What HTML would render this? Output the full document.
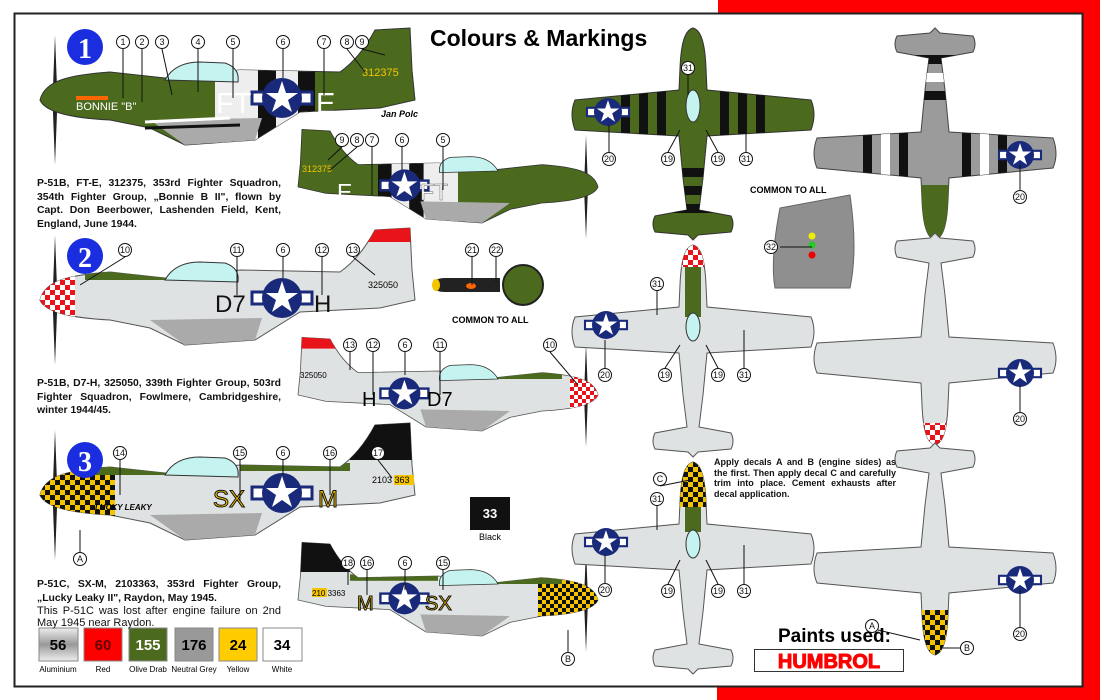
<!DOCTYPE html>
<html><head><meta charset="utf-8"><style>
html,body{margin:0;padding:0;background:#fff}
body{width:1100px;height:700px;overflow:hidden;position:relative;font-family:"Liberation Sans",sans-serif}
.t{position:absolute;font-weight:bold;font-size:10.4px;line-height:13.5px;text-align:justify;color:#111}
</style></head><body>
<svg width="1100" height="700" viewBox="0 0 1100 700" style="position:absolute;left:0;top:0" font-family="Liberation Sans, sans-serif">
<defs>
<path id="fus" d="M40,100 C45,80 70,75 110,72 L165,78 L240,70 L340,72 Q360,58 375,30 L410,28 L412,70 L415,100 L380,108 L300,112 L255,140 L185,145 L150,128 L110,120 C70,118 45,112 40,100 Z"/>
<clipPath id="cf"><use href="#fus"/></clipPath>
<path id="top" d="M0,0 C8,2 12,15 13,40 L14,62 L118,72 Q124,86 118,102 L14,108 L10,150 L6,182 L38,188 Q42,196 38,204 L5,207 L0,212 L-5,207 L-38,204 Q-42,196 -38,188 L-6,182 L-10,150 L-14,108 L-118,102 Q-124,86 -118,72 L-14,62 L-13,40 C-12,15 -8,2 0,0Z"/>
<clipPath id="ct"><use href="#top"/></clipPath>
<pattern id="chk" width="10" height="10" patternUnits="userSpaceOnUse"><rect width="10" height="10" fill="#f5c400"/><rect width="5" height="5" fill="#111"/><rect x="5" y="5" width="5" height="5" fill="#111"/></pattern>
<pattern id="rchk" width="10" height="10" patternUnits="userSpaceOnUse"><rect width="10" height="10" fill="#fff"/><rect width="5" height="5" fill="#e8141a"/><rect x="5" y="5" width="5" height="5" fill="#e8141a"/></pattern>
<g id="star"><rect x="-30" y="-6" width="60" height="12" fill="#fff" stroke="#1a2a7a" stroke-width="3"/><circle r="20" fill="#1a2a7a"/><polygon points="0,-17 4,-5 16,-5 6,2 10,14 0,7 -10,14 -6,2 -16,-5 -4,-5" fill="#fff"/></g>
<g id="prop"><path d="M55,35 L57.5,100 L55,165 L52.5,100 Z" fill="#222"/></g>
<g id="canopy"><path d="M165,80 Q175,62 200,62 L225,63 Q240,68 238,82 Z" fill="#c5f3f0" stroke="#333"/></g>
<g id="scoop"><path d="M150,120 L262,118 L255,140 L185,145 Z" fill="#aaa" clip-path="url(#cf)"/></g>
</defs>

<rect x="718" y="0" width="382" height="13" fill="#f00"/>
<rect x="1083" y="0" width="17" height="700" fill="#f00"/>
<rect x="717" y="687" width="383" height="13" fill="#f00"/>
<rect x="14.5" y="13.5" width="1068" height="673" fill="none" stroke="#222" stroke-width="2"/>

<text x="430" y="46" font-size="23" font-weight="bold">Colours &amp; Markings</text>

<g>
<use href="#prop"/>
<use href="#fus" fill="#4b6a1e" stroke="#333"/>
<g clip-path="url(#cf)"><rect x="215" y="60" width="100" height="90" fill="#eee"/><rect x="258" y="40" width="18" height="110" fill="#111"/><rect x="298" y="40" width="17" height="110" fill="#111"/></g>
<use href="#scoop"/>
<path d="M145,122 L230,118" stroke="#fff" stroke-width="3"/><path d="M145,128 L240,125" stroke="#111" stroke-width="3"/>
<use href="#canopy"/>
<rect x="76" y="96" width="32" height="4" fill="#f60"/>
<text x="76" y="110" font-size="11" fill="#fff">BONNIE "B"</text>
<use href="#star" x="282" y="98"/>
<text x="216" y="113" font-size="29" fill="#fff">FT</text><text x="316" y="113" font-size="29" fill="#fff">E</text>
<text x="362" y="76" font-size="11" fill="#f5c400">312375</text>
<text x="381" y="117" font-size="9" font-style="italic" font-weight="bold">Jan Polc</text>
</g>
<circle cx="85" cy="47" r="18" fill="#1a2ee0"/><text x="85" y="58" font-size="28" font-family="Liberation Serif,serif" font-weight="bold" fill="#fff" text-anchor="middle">1</text>

<g transform="translate(630,107) scale(-0.8,0.8)">
<use href="#prop"/>
<use href="#fus" fill="#4b6a1e" stroke="#333"/>
<g clip-path="url(#cf)"><rect x="215" y="60" width="100" height="90" fill="#eee"/><rect x="258" y="40" width="18" height="110" fill="#111"/><rect x="298" y="40" width="17" height="110" fill="#111"/></g>
<use href="#scoop"/>
<use href="#canopy"/>
<use href="#star" x="282" y="98"/>
</g>
<text x="420" y="200" font-size="23" fill="#fff" stroke="#666" stroke-width="0.5">FT</text><text x="337" y="200" font-size="23" fill="#fff">E</text>
<text x="302" y="172" font-size="9" fill="#f5c400">312375</text>

<g transform="translate(0,200)">
<use href="#prop"/>
<use href="#fus" fill="#dfe2e2" stroke="#555"/>
<g clip-path="url(#cf)"><rect x="40" y="70" width="35" height="60" fill="url(#rchk)"/><rect x="350" y="20" width="70" height="22" fill="#e8141a"/><rect x="85" y="72" width="90" height="8" fill="#4b6a1e"/></g>
<use href="#scoop"/>
<use href="#canopy"/>
<use href="#star" x="282" y="98"/>
<text x="215" y="112" font-size="24" fill="#111">D7</text><text x="314" y="112" font-size="24" fill="#111">H</text>
<text x="368" y="88" font-size="9">325050</text>
</g>
<circle cx="85" cy="256" r="18" fill="#1a2ee0"/><text x="85" y="267" font-size="28" font-family="Liberation Serif,serif" font-weight="bold" fill="#fff" text-anchor="middle">2</text>

<g transform="translate(630,315) scale(-0.8,0.8)">
<use href="#prop"/>
<use href="#fus" fill="#dfe2e2" stroke="#555"/>
<g clip-path="url(#cf)"><rect x="40" y="70" width="35" height="60" fill="url(#rchk)"/><rect x="350" y="20" width="70" height="22" fill="#e8141a"/><rect x="85" y="72" width="90" height="8" fill="#4b6a1e"/></g>
<use href="#scoop"/>
<use href="#canopy"/>
<use href="#star" x="282" y="98"/>
</g>
<text x="427" y="406" font-size="20">D7</text><text x="362" y="406" font-size="20">H</text>
<text x="300" y="378" font-size="8">325050</text>

<g transform="translate(0,395)">
<use href="#prop"/>
<use href="#fus" fill="#dfe2e2" stroke="#555"/>
<g clip-path="url(#cf)"><rect x="40" y="70" width="75" height="60" fill="url(#chk)"/><rect x="350" y="20" width="70" height="45" fill="#111"/><rect x="85" y="72" width="90" height="8" fill="#4b6a1e"/><rect x="240" y="68" width="110" height="8" fill="#4b6a1e"/></g>
<use href="#scoop"/>
<use href="#canopy"/>
<use href="#star" x="282" y="98"/>
<text x="213" y="112" font-size="24" fill="#f5c400" stroke="#111" stroke-width="1">SX</text><text x="318" y="112" font-size="24" fill="#f5c400" stroke="#111" stroke-width="1">M</text>
<rect x="394" y="80" width="20" height="10" fill="#f5c400"/><text x="372" y="88" font-size="9">2103 363</text>
<text x="95" y="115" font-size="8" font-style="italic" font-weight="bold">LUCKY LEAKY</text>
</g>
<circle cx="85" cy="460" r="18" fill="#1a2ee0"/><text x="85" y="471" font-size="28" font-family="Liberation Serif,serif" font-weight="bold" fill="#fff" text-anchor="middle">3</text>

<g transform="translate(630,520) scale(-0.8,0.8)">
<use href="#prop"/>
<use href="#fus" fill="#dfe2e2" stroke="#555"/>
<g clip-path="url(#cf)"><rect x="40" y="70" width="75" height="60" fill="url(#chk)"/><rect x="350" y="20" width="70" height="45" fill="#111"/><rect x="85" y="72" width="90" height="8" fill="#4b6a1e"/><rect x="240" y="68" width="110" height="8" fill="#4b6a1e"/></g>
<use href="#scoop"/>
<use href="#canopy"/>
<use href="#star" x="282" y="98"/>
</g>
<text x="425" y="610" font-size="20" fill="#f5c400" stroke="#111" stroke-width="1">SX</text><text x="357" y="610" font-size="20" fill="#f5c400" stroke="#111" stroke-width="1">M</text>
<rect x="312" y="588" width="15" height="9" fill="#f5c400"/><text x="312" y="596" font-size="8">210 3363</text>

<path d="M432,285 Q434,278 445,278 L500,278 L500,292 L445,292 Q434,292 432,285Z" fill="#222"/>
<ellipse cx="436" cy="285" rx="4" ry="6" fill="#f5c400"/>
<ellipse cx="471" cy="286" rx="5" ry="3" fill="#f60"/>
<circle cx="523" cy="285" r="20" fill="#4b6a1e" stroke="#222" stroke-width="2"/>
<text x="452" y="323" font-size="9" font-weight="bold">COMMON TO ALL</text>
<text x="750" y="193" font-size="9" font-weight="bold">COMMON TO ALL</text>
<path d="M780,208 L850,195 Q858,250 850,288 L775,288 Q770,260 780,208Z" fill="#8f8f8f" stroke="#666"/>
<circle cx="812" cy="236" r="3.5" fill="#ee0"/><circle cx="812" cy="245" r="3.5" fill="#2c2"/><circle cx="812" cy="255" r="3.5" fill="#e00"/>

<rect x="470" y="497" width="40" height="33" fill="#111"/>
<text x="490" y="518" font-size="13" font-weight="bold" fill="#fff" text-anchor="middle">33</text>
<text x="490" y="540" font-size="9" text-anchor="middle">Black</text>

<g transform="translate(693,28)">
<use href="#top" fill="#4b6a1e" stroke="#333"/>
<g clip-path="url(#ct)"><rect x="-72" y="60" width="9" height="50" fill="#111"/><rect x="-54" y="60" width="9" height="50" fill="#111"/><rect x="-36" y="60" width="9" height="50" fill="#111"/><rect x="27" y="60" width="9" height="50" fill="#111"/><rect x="45" y="60" width="9" height="50" fill="#111"/><rect x="63" y="60" width="9" height="50" fill="#111"/>
<rect x="-20" y="140" width="40" height="9" fill="#111"/><rect x="-20" y="158" width="40" height="9" fill="#111"/><rect x="-20" y="176" width="40" height="9" fill="#111"/></g>
<ellipse cx="0" cy="78" rx="7" ry="16" fill="#c5f3f0" stroke="#333"/>
</g>
<g transform="translate(693,245)">
<use href="#top" fill="#dfe2e2" stroke="#555"/>
<g clip-path="url(#ct)"><rect x="-15" y="0" width="30" height="22" fill="url(#rchk)"/><rect x="-8" y="22" width="16" height="50" fill="#4b6a1e"/></g>
<ellipse cx="0" cy="82" rx="7" ry="14" fill="#c5f3f0" stroke="#333"/>
</g>
<g transform="translate(693,462)">
<use href="#top" fill="#dfe2e2" stroke="#555"/>
<g clip-path="url(#ct)"><rect x="-15" y="0" width="30" height="45" fill="url(#chk)"/><rect x="-8" y="45" width="16" height="25" fill="#4b6a1e"/></g>
<ellipse cx="0" cy="82" rx="7" ry="14" fill="#c5f3f0" stroke="#333"/>
</g>
<g transform="translate(608,112) scale(0.7)"><use href="#star"/></g>
<g transform="translate(606,325) scale(0.7)"><use href="#star"/></g>
<g transform="translate(606,542) scale(0.7)"><use href="#star"/></g>

<g transform="translate(935,240) scale(1,-1)">
<use href="#top" fill="#9b9b9b" stroke="#444"/>
<g clip-path="url(#ct)"><rect x="-72" y="60" width="9" height="50" fill="#111"/><rect x="-54" y="60" width="9" height="50" fill="#fff"/><rect x="-36" y="60" width="9" height="50" fill="#111"/><rect x="27" y="60" width="9" height="50" fill="#111"/><rect x="45" y="60" width="9" height="50" fill="#fff"/><rect x="63" y="60" width="9" height="50" fill="#111"/>
<rect x="-20" y="140" width="40" height="9" fill="#111"/><rect x="-20" y="158" width="40" height="9" fill="#fff"/><rect x="-20" y="176" width="40" height="9" fill="#111"/><rect x="-20" y="0" width="40" height="55" fill="#4b6a1e"/></g>
</g>
<g transform="translate(935,445) scale(1,-1)">
<use href="#top" fill="#dfe2e2" stroke="#555"/>
<g clip-path="url(#ct)"><rect x="-15" y="0" width="30" height="22" fill="url(#rchk)"/></g>
</g>
<g transform="translate(935,655) scale(1,-1)">
<use href="#top" fill="#dfe2e2" stroke="#555"/>
<g clip-path="url(#ct)"><rect x="-15" y="0" width="30" height="45" fill="url(#chk)"/></g>
</g>
<g transform="translate(1020,155) scale(0.7)"><use href="#star"/></g>
<g transform="translate(1020,373) scale(0.7)"><use href="#star"/></g>
<g transform="translate(1020,580) scale(0.7)"><use href="#star"/></g>

<g stroke="#111" stroke-width="1" fill="none">
<path d="M123,49V98M142,49V102M162,49L172,95M198,49V92M233,49V98M283,49V78M324,49V95M347,49L365,72M362,49L385,55"/>
<path d="M342,147L328,160M357,147L330,170M372,147V195M402,147V170M443,147V190"/>
<path d="M125,257L80,285M237,257V295M283,257V278M322,257V295M353,257L375,275"/>
<path d="M350,352V370M373,352V395M405,352V375M440,352V395M550,352L578,385"/>
<path d="M120,460V495M240,460V500M283,460V475M330,460V495M378,460L392,478"/>
<path d="M348,570V585M367,570V595M405,570V590M443,570V590M568,652V630M80,552V530"/>
<path d="M688,75V95M609,152V125M668,152L680,130M718,152L706,130M746,152V115"/>
<path d="M657,291V315M605,368V340M665,368L680,345M718,368L706,345M744,368V330"/>
<path d="M660,486L690,480M657,506V530M605,583V555M668,584L680,560M718,584L706,560M744,584V545"/>
<path d="M1020,190V165M1020,412V385M1020,627V590M780,247H812M472,257V285M496,257V282M878,630L920,640M960,648H943"/>
</g>
<g font-size="9" text-anchor="middle" fill="#111">
<g stroke="#111" fill="#fff">
<circle cx="123" cy="42" r="6.5"/><circle cx="142" cy="42" r="6.5"/><circle cx="162" cy="42" r="6.5"/><circle cx="198" cy="42" r="6.5"/><circle cx="233" cy="42" r="6.5"/><circle cx="283" cy="42" r="6.5"/><circle cx="324" cy="42" r="6.5"/><circle cx="347" cy="42" r="6.5"/><circle cx="362" cy="42" r="6.5"/>
<circle cx="342" cy="140" r="6.5"/><circle cx="357" cy="140" r="6.5"/><circle cx="372" cy="140" r="6.5"/><circle cx="402" cy="140" r="6.5"/><circle cx="443" cy="140" r="6.5"/>
<circle cx="125" cy="250" r="6.5"/><circle cx="237" cy="250" r="6.5"/><circle cx="283" cy="250" r="6.5"/><circle cx="322" cy="250" r="6.5"/><circle cx="353" cy="250" r="6.5"/>
<circle cx="350" cy="345" r="6.5"/><circle cx="373" cy="345" r="6.5"/><circle cx="405" cy="345" r="6.5"/><circle cx="440" cy="345" r="6.5"/><circle cx="550" cy="345" r="6.5"/>
<circle cx="120" cy="453" r="6.5"/><circle cx="240" cy="453" r="6.5"/><circle cx="283" cy="453" r="6.5"/><circle cx="330" cy="453" r="6.5"/><circle cx="378" cy="453" r="6.5"/>
<circle cx="348" cy="563" r="6.5"/><circle cx="367" cy="563" r="6.5"/><circle cx="405" cy="563" r="6.5"/><circle cx="443" cy="563" r="6.5"/><circle cx="568" cy="659" r="6.5"/><circle cx="80" cy="559" r="6.5"/>
<circle cx="688" cy="68" r="6.5"/><circle cx="609" cy="159" r="6.5"/><circle cx="668" cy="159" r="6.5"/><circle cx="718" cy="159" r="6.5"/><circle cx="746" cy="159" r="6.5"/>
<circle cx="657" cy="284" r="6.5"/><circle cx="605" cy="375" r="6.5"/><circle cx="665" cy="375" r="6.5"/><circle cx="718" cy="375" r="6.5"/><circle cx="744" cy="375" r="6.5"/>
<circle cx="660" cy="479" r="6.5"/><circle cx="657" cy="499" r="6.5"/><circle cx="605" cy="590" r="6.5"/><circle cx="668" cy="591" r="6.5"/><circle cx="718" cy="591" r="6.5"/><circle cx="744" cy="591" r="6.5"/>
<circle cx="1020" cy="197" r="6.5"/><circle cx="1020" cy="419" r="6.5"/><circle cx="1020" cy="634" r="6.5"/><circle cx="771" cy="247" r="6.5"/><circle cx="472" cy="250" r="6.5"/><circle cx="496" cy="250" r="6.5"/><circle cx="872" cy="626" r="6.5"/><circle cx="967" cy="648" r="6.5"/>
</g>
<text x="123" y="45">1</text><text x="142" y="45">2</text><text x="162" y="45">3</text><text x="198" y="45">4</text><text x="233" y="45">5</text><text x="283" y="45">6</text><text x="324" y="45">7</text><text x="347" y="45">8</text><text x="362" y="45">9</text>
<text x="342" y="143">9</text><text x="357" y="143">8</text><text x="372" y="143">7</text><text x="402" y="143">6</text><text x="443" y="143">5</text>
<text x="125" y="253">10</text><text x="237" y="253">11</text><text x="283" y="253">6</text><text x="322" y="253">12</text><text x="353" y="253">13</text>
<text x="350" y="348">13</text><text x="373" y="348">12</text><text x="405" y="348">6</text><text x="440" y="348">11</text><text x="550" y="348">10</text>
<text x="120" y="456">14</text><text x="240" y="456">15</text><text x="283" y="456">6</text><text x="330" y="456">16</text><text x="378" y="456">17</text>
<text x="348" y="566">18</text><text x="367" y="566">16</text><text x="405" y="566">6</text><text x="443" y="566">15</text><text x="568" y="662">B</text><text x="80" y="562">A</text>
<text x="688" y="71">31</text><text x="609" y="162">20</text><text x="668" y="162">19</text><text x="718" y="162">19</text><text x="746" y="162">31</text>
<text x="657" y="287">31</text><text x="605" y="378">20</text><text x="665" y="378">19</text><text x="718" y="378">19</text><text x="744" y="378">31</text>
<text x="660" y="482">C</text><text x="657" y="502">31</text><text x="605" y="593">20</text><text x="668" y="594">19</text><text x="718" y="594">19</text><text x="744" y="594">31</text>
<text x="1020" y="200">20</text><text x="1020" y="422">20</text><text x="1020" y="637">20</text><text x="771" y="250">32</text><text x="472" y="253">21</text><text x="496" y="253">22</text><text x="872" y="629">A</text><text x="967" y="651">B</text>
</g>

<defs><linearGradient id="al" x1="0" y1="0" x2="0" y2="1"><stop offset="0" stop-color="#eee"/><stop offset="0.5" stop-color="#999"/><stop offset="1" stop-color="#eee"/></linearGradient></defs>
<g stroke="#888">
<rect x="39" y="628" width="39" height="33" fill="url(#al)"/>
<rect x="84" y="628" width="38" height="33" fill="#f00"/>
<rect x="129" y="628" width="38" height="33" fill="#4b6a1e"/>
<rect x="175" y="628" width="38" height="33" fill="#999"/>
<rect x="219" y="628" width="38" height="33" fill="#fc0"/>
<rect x="263" y="628" width="39" height="33" fill="#fff"/>
</g>
<g font-size="15" font-weight="bold" text-anchor="middle">
<text x="58" y="650">56</text><text x="103" y="650" fill="#600">60</text><text x="148" y="650" fill="#fff">155</text><text x="194" y="650">176</text><text x="238" y="650">24</text><text x="282" y="650">34</text>
</g>
<g font-size="8" text-anchor="middle">
<text x="58" y="672">Aluminium</text><text x="103" y="672">Red</text><text x="148" y="672">Olive Drab</text><text x="194" y="672">Neutral Grey</text><text x="238" y="672">Yellow</text><text x="282" y="672">White</text>
</g>

<text x="778" y="642" font-size="19" font-weight="bold">Paints used:</text>
<rect x="754.5" y="649.5" width="149" height="22" fill="#fff" stroke="#333"/>
<text x="829" y="668" font-size="20" font-weight="bold" fill="#f00" stroke="#f00" stroke-width="1" text-anchor="middle">HUMBROL</text>
</svg>

<div class="t" style="left:37px;top:177px;width:244px">P-51B, FT-E, 312375, 353rd Fighter Squadron, 354th Fighter Group, „Bonnie B II", flown by Capt. Don Beerbower, Lashenden Field, Kent, England, June 1944.</div>
<div class="t" style="left:37px;top:377px;width:244px">P-51B, D7-H, 325050, 339th Fighter Group, 503rd Fighter Squadron, Fowlmere, Cambridgeshire, winter 1944/45.</div>
<div class="t" style="left:37px;top:578px;width:244px">P-51C, SX-M, 2103363, 353rd Fighter Group, „Lucky Leaky II", Raydon, May 1945.<div style="font-weight:normal;font-size:11px;line-height:12px">This P-51C was lost after engine failure on 2nd May 1945 near Raydon.</div></div>
<div class="t" style="left:714px;top:457px;width:182px;font-size:9px;line-height:10.5px">Apply decals A and B (engine sides) as the first. Then apply decal C and carefully trim into place. Cement exhausts after decal application.</div>
</body></html>
